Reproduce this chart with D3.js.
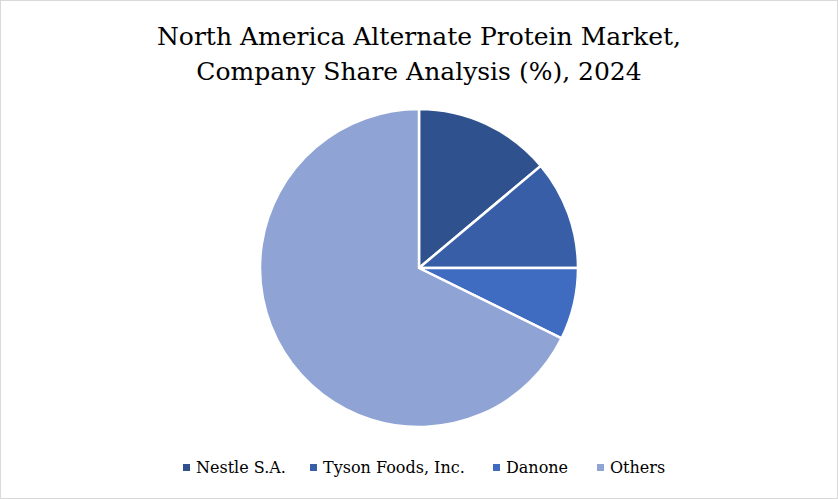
<!DOCTYPE html>
<html><head><meta charset="utf-8">
<script src="https://cdn.jsdelivr.net/npm/d3@7"></script>
<style>body{margin:0;background:#fff}</style>
</head><body>
<svg id="chart" width="838" height="499"></svg>
<script>
const companies = ["Nestle S.A.", "Tyson Foods, Inc.", "Danone", "Others"];
const shares = [13.9, 11.1, 7.3, 67.7];
const colors = ["#2f528f", "#385ea8", "#3f6cc0", "#8fa4d5"];

const svg = d3.select("#chart");
const font = "Georgia, 'DejaVu Serif', 'Liberation Serif', serif";

svg.append("rect").attr("x", 0.5).attr("y", 0.5).attr("width", 837).attr("height", 498)
    .attr("fill", "#fff").attr("stroke", "#d9d9d9");

// Title
svg.append("text").attr("x", 419).attr("y", 45).attr("text-anchor", "middle")
    .attr("font-family", font).attr("font-size", 25).attr("fill", "#000")
    .text("North America Alternate Protein Market,");
svg.append("text").attr("x", 419).attr("y", 80).attr("text-anchor", "middle")
    .attr("font-family", font).attr("font-size", 25).attr("fill", "#000")
    .text("Company Share Analysis (%), 2024");

// Pie
const pie = d3.pie().sort(null).value(d => d);
const arc = d3.arc().innerRadius(0).outerRadius(159);
svg.append("g").attr("transform", "translate(419,268)")
    .selectAll("path").data(pie(shares)).join("path")
    .attr("d", arc).attr("fill", (d, i) => colors[i])
    .attr("stroke", "#fff").attr("stroke-width", 2.5);

// Legend
const legendX = [183, 310, 493, 597];
const lg = svg.append("g");
companies.forEach((c, i) => {
    lg.append("rect").attr("x", legendX[i]).attr("y", 464).attr("width", 7).attr("height", 7)
        .attr("fill", colors[i]);
    lg.append("text").attr("x", legendX[i] + 13).attr("y", 473)
        .attr("font-family", font).attr("font-size", 16).attr("fill", "#000").text(c);
});
</script>
</body></html>
